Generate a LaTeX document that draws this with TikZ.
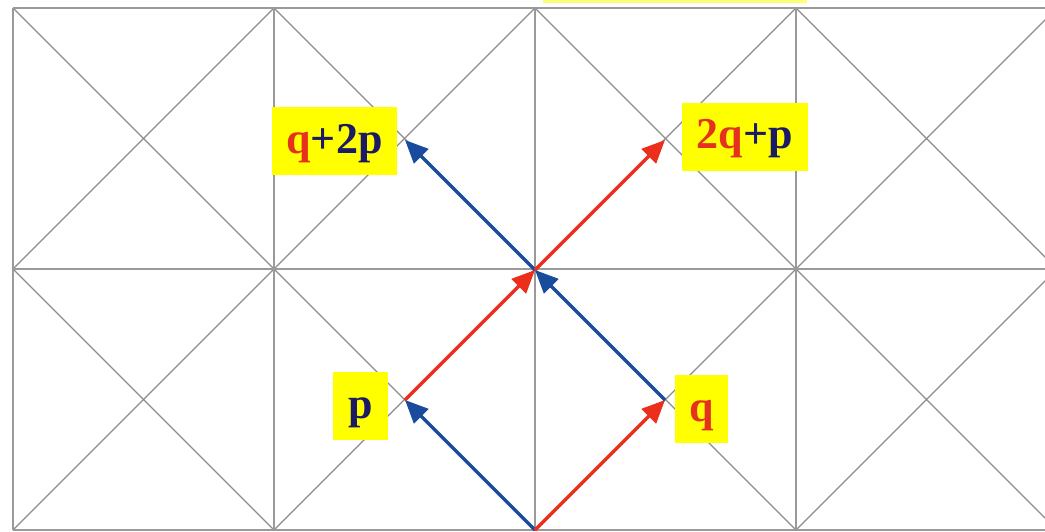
\documentclass[tikz,border=0pt]{standalone}
\usepackage{fontspec}
\setmainfont{Liberation Serif}
\usetikzlibrary{arrows.meta}
\definecolor{gridgray}{HTML}{9A9A9A}
\definecolor{diaggray}{HTML}{8C8C8C}
\definecolor{arrblue}{HTML}{1A4C9E}
\definecolor{arrred}{HTML}{EC2E1C}
\definecolor{txtnavy}{HTML}{1B1A66}
\definecolor{txtred}{HTML}{E4321E}
\definecolor{boxyellow}{HTML}{FFFF00}
\tikzset{
  gridline/.style={draw=gridgray, line width=1.8pt},
  diagline/.style={draw=diaggray, line width=1.1pt},
  vecblue/.style={draw=arrblue, line width=3.4pt, -{Triangle[length=23pt,width=20pt]}},
  vecred/.style={draw=arrred, line width=3.4pt, -{Triangle[length=23pt,width=20pt]}},
  labelbox/.style={fill=boxyellow, inner xsep=0pt, inner ysep=0pt, text height=46pt, text depth=22pt,
    font=\fontsize{44}{44}\selectfont\bfseries, text=txtnavy, anchor=center},
}
\newcommand{\redq}{\textcolor{txtred}{q}}
\begin{document}
\begin{tikzpicture}[x=1pt,y=-1pt]
\useasboundingbox (0,0) rectangle (1045,531);
\fill[white] (0,0) rectangle (1045,531);
\begin{scope}
\clip (0,0) rectangle (1045,531);
% cut-off yellow box at top
\fill[boxyellow!55] (543,0) rectangle (807,2.5);
% diagonals
\foreach \c in {0,...,4} {
  \foreach \r in {0,1} {
    \pgfmathsetmacro{\xa}{13+261*\c}
    \pgfmathsetmacro{\xb}{13+261*(\c+1)}
    \pgfmathsetmacro{\ya}{8+261*\r}
    \pgfmathsetmacro{\yb}{8+261*(\r+1)}
    \draw[diagline] (\xa,\ya) -- (\xb,\yb);
    \draw[diagline] (\xa,\yb) -- (\xb,\ya);
  }
}
% grid lines
\foreach \y in {8,269,530} \draw[gridline] (13,\y) -- (1060,\y);
\foreach \x in {13,274,535,796} \draw[gridline] (\x,8) -- (\x,530);
\end{scope}
% lattice points
\coordinate (O) at (535,530);
\coordinate (P) at (405,400);
\coordinate (Q) at (665,400);
\coordinate (C) at (535,270);
\coordinate (QP) at (405,140);
\coordinate (PQ) at (665,140);
% vectors
\draw[vecblue] (O) -- (P);
\draw[vecred] (O) -- (Q);
\draw[vecred] (P) -- (C);
\draw[vecblue] (Q) -- (C);
\draw[vecblue] (C) -- (QP);
\draw[vecred] (C) -- (PQ);
% labels
\node[labelbox, minimum width=125pt] (lqp) at (334.5,141) {\redq+2p};
\node[labelbox, minimum width=126pt] (lpq) at (745,136.5) {\textcolor{txtred}{2q}+p};
\node[labelbox, minimum width=55pt] (lp) at (360.5,406) {p};
\node[labelbox, minimum width=53pt, text=txtred] (lq) at (701.5,409) {q};
\end{tikzpicture}
\end{document}
